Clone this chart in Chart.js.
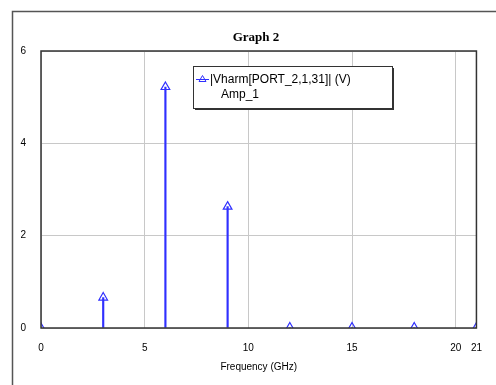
<!DOCTYPE html>
<html lang="en">
<head>
<meta charset="UTF-8">
<title>Graph 2</title>
<script src="https://cdn.jsdelivr.net/npm/chart.js"></script>
<style>
    html, body { margin: 0; padding: 0; background: #fff; }
    #graph { display: block; }
</style>
</head>
<body>
<canvas id="graph" width="496" height="385"></canvas>
<script>
    // harmonic spectrum at the amplifier output
    const freqs = [0, 3, 6, 9, 12, 15, 18, 21];
    const amps = [0.0, 0.66, 5.22, 2.63, 0.01, 0.01, 0.01, 0.01];
    const xTickValues = [0, 5, 10, 15, 20, 21];
    const yTickValues = [0, 2, 4, 6];
    const graphTitle = 'Graph 2';
    const seriesName = '|Vharm[PORT_2,1,31]| (V)';
    const seriesSource = 'Amp_1';

    const blue = '#3030ff';
    const tickFont = { family: '"Liberation Sans Narrow", "Liberation Sans", Arial, sans-serif', size: 10 };

    const points = freqs.map((f, i) => ({ x: f, y: amps[i] }));

    // outer frame, title, plot border and the boxed legend
    const framePlugin = {
        id: 'frame',
        beforeDraw(chart) {
            const ctx = chart.ctx;
            ctx.save();
            ctx.fillStyle = '#fff';
            ctx.fillRect(0, 0, chart.width, chart.height);
            ctx.strokeStyle = '#555';
            ctx.lineWidth = 1.5;
            ctx.beginPath();
            ctx.moveTo(12.5, chart.height);
            ctx.lineTo(12.5, 11.5);
            ctx.lineTo(chart.width, 11.5);
            ctx.stroke();

            ctx.fillStyle = '#000';
            ctx.font = 'bold 13px "Liberation Serif", "Times New Roman", serif';
            ctx.textAlign = 'center';
            ctx.textBaseline = 'alphabetic';
            ctx.fillText(graphTitle, 256, 41);
            ctx.restore();
        },
        afterDatasetsDraw(chart) {
            const a = chart.chartArea;
            const ctx = chart.ctx;
            ctx.save();
            ctx.strokeStyle = '#333';
            ctx.lineWidth = 1.5;
            ctx.strokeRect(a.left, a.top, a.right - a.left, a.bottom - a.top);
            ctx.restore();
        },
        afterDraw(chart) {
            const ctx = chart.ctx;
            const bx = 193, by = 66, bw = 199, bh = 42;
            ctx.save();
            ctx.fillStyle = '#333';
            ctx.fillRect(bx + 2, by + 2, bw, bh);
            ctx.fillStyle = '#fff';
            ctx.fillRect(bx, by, bw, bh);
            ctx.strokeStyle = '#333';
            ctx.lineWidth = 1;
            ctx.strokeRect(bx + 0.5, by + 0.5, bw, bh);

            // sample line with marker
            const ly = by + 13.5;
            ctx.strokeStyle = blue;
            ctx.beginPath();
            ctx.moveTo(bx + 3, ly);
            ctx.lineTo(bx + 16, ly);
            ctx.stroke();
            ctx.beginPath();
            ctx.moveTo(bx + 9.5, ly - 4);
            ctx.lineTo(bx + 13, ly + 2);
            ctx.lineTo(bx + 6, ly + 2);
            ctx.closePath();
            ctx.stroke();

            ctx.fillStyle = '#000';
            ctx.font = '12px "Liberation Sans", Arial, sans-serif';
            ctx.textBaseline = 'middle';
            ctx.fillText(seriesName, bx + 17, ly);
            ctx.fillText(seriesSource, bx + 28, ly + 15);
            ctx.restore();
        }
    };

    new Chart(document.getElementById('graph'), {
        type: 'bar',
        data: {
            datasets: [
                {
                    // stems
                    type: 'bar',
                    data: points,
                    backgroundColor: blue,
                    barThickness: 1.5,
                    clip: 0,
                    order: 1
                },
                {
                    // triangle markers
                    type: 'line',
                    data: points,
                    showLine: false,
                    pointStyle: 'triangle',
                    pointRadius: 5,
                    pointBorderWidth: 1.2,
                    pointBorderColor: blue,
                    pointBackgroundColor: 'rgba(255,255,255,0)',
                    clip: 0,
                    order: 0
                }
            ]
        },
        options: {
            responsive: false,
            animation: false,
            layout: { padding: { left: 0, right: 17, top: 51, bottom: 0 } },
            plugins: {
                legend: { display: false },
                tooltip: { enabled: false },
                title: { display: false }
            },
            scales: {
                x: {
                    type: 'linear',
                    min: 0,
                    max: 21,
                    offset: false,
                    afterBuildTicks: s => { s.ticks = xTickValues.map(v => ({ value: v })); },
                    afterFit: s => { s.height = 57; },
                    grid: { color: '#c8c8c8', lineWidth: 1, drawTicks: false, offset: false },
                    border: { display: false },
                    ticks: { color: '#000', font: tickFont, padding: 14, maxRotation: 0, autoSkip: false },
                    title: {
                        display: true,
                        text: 'Frequency (GHz)',
                        color: '#000',
                        font: { family: '"Liberation Sans", Arial, sans-serif', size: 10 },
                        padding: { top: 0, bottom: 12 }
                    }
                },
                y: {
                    min: 0,
                    max: 6,
                    afterBuildTicks: s => { s.ticks = yTickValues.map(v => ({ value: v })); },
                    afterFit: s => { s.width = 41; },
                    grid: { color: '#c8c8c8', lineWidth: 1, drawTicks: false },
                    border: { display: false },
                    ticks: { color: '#000', font: tickFont, padding: 15 }
                }
            }
        },
        plugins: [framePlugin]
    });
</script>
</body>
</html>
